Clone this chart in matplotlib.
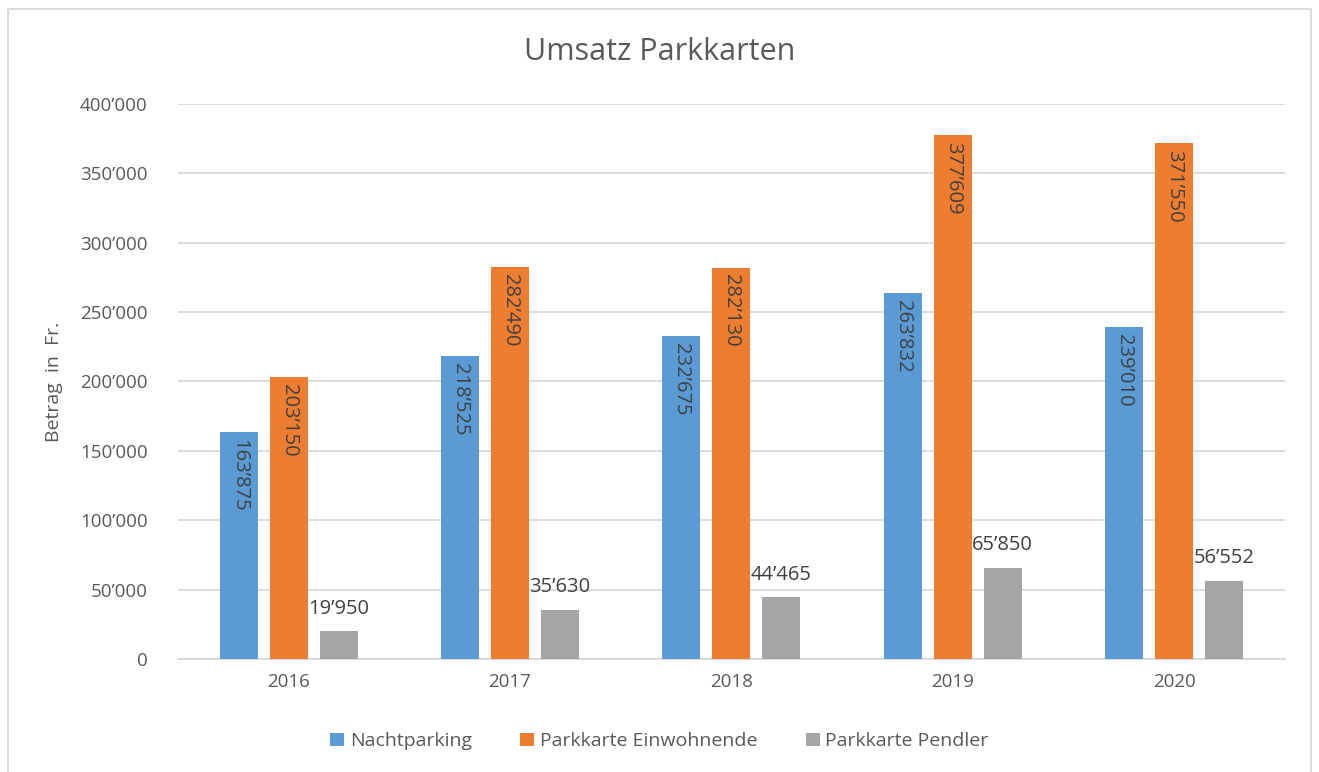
import numpy as np
import matplotlib.pyplot as plt
from matplotlib.patches import Rectangle

plt.rcParams['font.family'] = ['Open Sans', 'DejaVu Sans']

years = ["2016", "2017", "2018", "2019", "2020"]
nacht = [163875, 218525, 232675, 263832, 239010]
einwohner = [203150, 282490, 282130, 377609, 371550]
pendler = [19950, 35630, 44465, 65850, 56552]
yticks = [0, 50000, 100000, 150000, 200000, 250000, 300000, 350000, 400000]

def fmt(v):
    if v == 0:
        return "0"
    return "{:,}".format(v).replace(",", "\u2019")

txt = "#595959"
fig = plt.figure(figsize=(13.19, 7.72), dpi=100)
ax = fig.add_axes([0.135, 0.1464, 0.839, 0.7189])

x = np.arange(len(years))
w = 0.172
off = 0.226
b1 = ax.bar(x - off, nacht, w, color="#5B9BD5", label="Nachtparking", zorder=3)
b2 = ax.bar(x, einwohner, w, color="#ED7D31", label="Parkkarte Einwohnende", zorder=3)
b3 = ax.bar(x + off, pendler, w, color="#A5A5A5", label="Parkkarte Pendler", zorder=3)

# labels inside the bars, rotated
for bars, vals in [(b1, nacht), (b2, einwohner)]:
    for r, v in zip(bars, vals):
        ax.annotate(fmt(v), (r.get_x() + r.get_width() / 2, v), xytext=(0, -5),
                    textcoords="offset points", rotation=270, ha="center", va="top",
                    fontsize=14.5, color="#404040", zorder=4)
for r, v in zip(b3, pendler):
    ax.annotate(fmt(v), (r.get_x() + r.get_width() / 2, v), xytext=(0, 9),
                textcoords="offset points", ha="center", va="bottom",
                fontsize=14.5, color="#404040", zorder=4)

ax.set_ylim(0, 400000)
ax.set_xlim(-0.5, len(years) - 0.5)
ax.set_yticks(yticks)
ax.set_yticklabels([fmt(v) for v in yticks])
ax.set_xticks(x)
ax.set_xticklabels(years)
ax.tick_params(axis="both", length=0, labelsize=13.5, colors=txt)
ax.tick_params(axis="y", pad=22)
ax.tick_params(axis="x", pad=10)
ax.yaxis.grid(True, color="#D9D9D9", linewidth=1.3, zorder=0)
for s in ["top", "right", "left"]:
    ax.spines[s].set_visible(False)
ax.spines["bottom"].set_color("#D9D9D9")
ax.spines["bottom"].set_linewidth(1.3)
ax.set_ylabel("Betrag  in  Fr.", fontsize=14, color=txt, labelpad=12)

fig.text(0.5, 0.932, "Umsatz Parkkarten", ha="center", va="center", fontsize=22, color=txt)

leg = fig.legend(loc="center", bbox_to_anchor=(0.5, 0.04), ncol=3, frameon=False,
                 fontsize=14, handlelength=0.7, handleheight=0.7, columnspacing=2.5,
                 handletextpad=0.3)
for t in leg.get_texts():
    t.set_color(txt)

fig.patches.append(Rectangle((0.006, -0.01), 0.988, 0.998, transform=fig.transFigure,
                             fill=False, edgecolor="#D9D9D9", linewidth=1.3))

fig.savefig("out.png", dpi=100)
